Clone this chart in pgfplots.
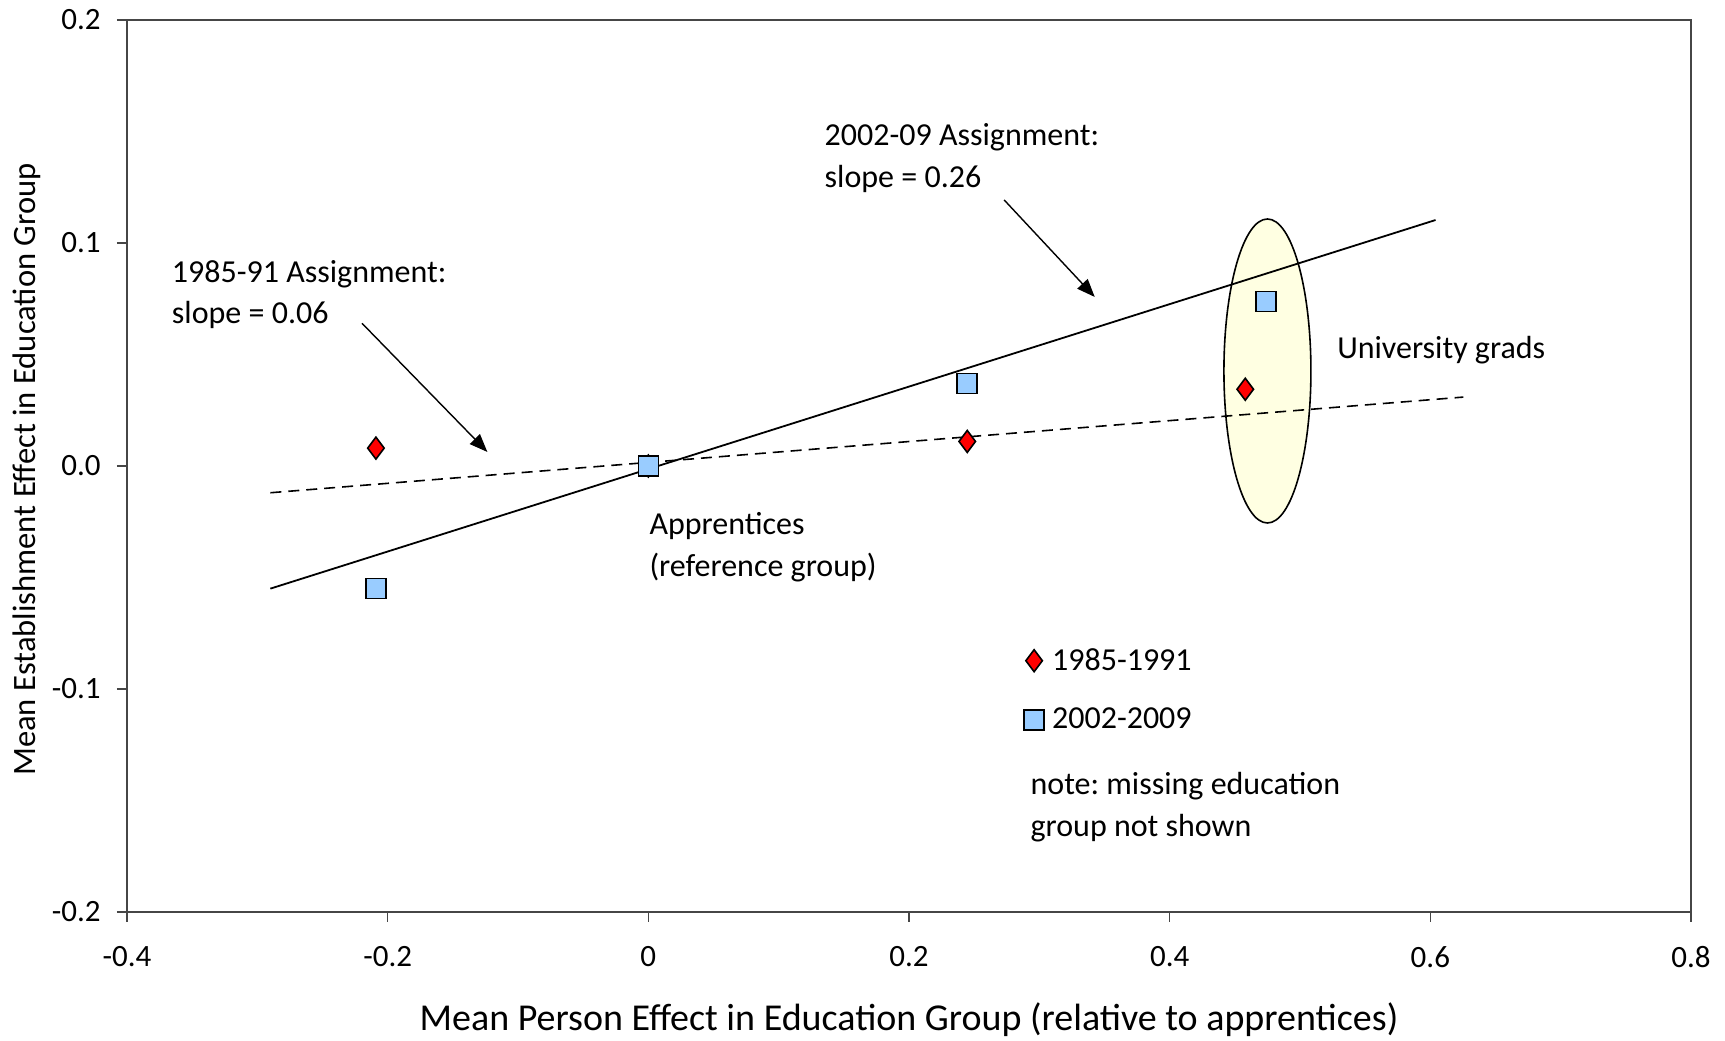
\documentclass[border=0pt]{standalone}
\usepackage{pgfplots}
\pgfplotsset{compat=1.18}
\usepackage{fontspec}
\setmainfont{Carlito}
\usetikzlibrary{arrows.meta}
\definecolor{redm}{RGB}{255,0,0}
\definecolor{bluem}{RGB}{153,204,255}
\definecolor{ellfill}{RGB}{255,255,226}
\definecolor{axgray}{RGB}{70,70,70}
\pgfplotsset{mylegimg/.style={legend image code/.code={\draw[mark repeat=2,mark phase=2,##1] plot coordinates {(-5pt,0pt)(0pt,0pt)(5pt,0pt)};}}}
\frenchspacing
\begin{document}
\begin{tikzpicture}
\begin{axis}[
  scale only axis,
  width=782pt, height=446pt,
  xmin=-0.4, xmax=0.8, ymin=-0.2, ymax=0.2,
  xtick={-0.4,-0.2,0,0.2,0.4,0.6,0.8},
  xticklabels={{-0.4},{-0.2},{0},{0.2},{0.4},{0.6},{0.8}},
  ytick={-0.2,-0.1,0,0.1,0.2},
  yticklabels={{-0.2},{-0.1},{0.0},{0.1},{0.2}},
  tick align=outside,
  major tick length=5pt,
  xtick pos=bottom, ytick pos=left,
  axis line style={draw=axgray, line width=0.7pt},
  tick style={draw=axgray, line width=0.7pt},
  ticklabel style={font=\fontsize{15.5}{18}\selectfont},
  yticklabel style={inner sep=0pt, xshift=-8pt},
  xticklabel style={inner sep=0pt, yshift=-12pt},
  xlabel={Mean Person Effect in Education Group (relative to apprentices)},
  ylabel={Mean Establishment Effect in Education Group},
  xlabel style={font=\fontsize{19}{22}\selectfont, at={(axis description cs:0.5,-0.121)}, anchor=center},
  ylabel style={font=\fontsize{16.3}{19}\selectfont, at={(axis description cs:-0.064,0.496)}, anchor=center},
  legend style={draw=none, fill=none, at={(axis cs:0.288,-0.1005)}, anchor=west,
    inner sep=0pt, row sep=17.5pt, font=\fontsize{16}{19}\selectfont,
    nodes={inner xsep=4pt, inner ysep=0pt}},
  legend cell align=left,
]
% ellipse highlighting university grads
\draw[fill=ellfill, line width=0.8pt] (axis cs:0.475,0.0426) ellipse [x radius=21.75pt, y radius=76pt];

% fitted lines
\addplot[black, line width=0.9pt, forget plot] coordinates {(-0.290,-0.055) (0.604,0.1103)};
\addplot[black, line width=0.8pt, dash pattern=on 5.5pt off 3.5pt, forget plot] coordinates {(-0.290,-0.012) (0.6253,0.0309)};

% data
\addplot[only marks, mark=diamond*, mark size=5.5pt, mark options={fill=redm, draw=black, line width=0.8pt}, mylegimg]
  coordinates {(-0.209,0.008) (0,0) (0.2447,0.011) (0.458,0.0344)};
\addlegendentry{1985-1991}
\addplot[only marks, mark=square*, mark size=5pt, mark options={fill=bluem, draw=black, line width=0.8pt}, mylegimg]
  coordinates {(-0.209,-0.055) (0,0) (0.2447,0.037) (0.474,0.0738)};
\addlegendentry{2002-2009}

% arrows
\draw[line width=0.7pt, -{Triangle[length=9pt,width=7pt]}] (axis cs:0.273,0.1193) -- (axis cs:0.3425,0.0758);
\draw[line width=0.7pt, -{Triangle[length=9pt,width=7pt]}] (axis cs:-0.2197,0.064) -- (axis cs:-0.1235,0.0063);

% annotations
\node[anchor=west, align=left, inner sep=0pt, font=\fontsize{16}{20.9}\selectfont] at (axis cs:0.135,0.138) {2002-09 Assignment:\\slope = 0.26};
\node[anchor=west, align=left, inner sep=0pt, font=\fontsize{16}{20.9}\selectfont] at (axis cs:-0.3658,0.0769) {1985-91 Assignment:\\slope = 0.06};
\node[anchor=west, align=left, inner sep=0pt, font=\fontsize{16}{20.9}\selectfont] at (axis cs:0.0006,-0.0363) {Apprentices\\(reference group)};
\node[anchor=west, align=left, inner sep=0pt, font=\fontsize{16}{20.9}\selectfont] at (axis cs:0.5283,0.052) {University grads};
\node[anchor=west, align=left, inner sep=0pt, font=\fontsize{16}{20.9}\selectfont] at (axis cs:0.293,-0.153) {note: missing education\\group not shown};
\end{axis}
\pgfresetboundingbox
\path ([shift={(-63.5pt,-64.5pt)}]current axis.south west) rectangle ([shift={(17pt,10pt)}]current axis.north east);
\end{tikzpicture}
\end{document}
